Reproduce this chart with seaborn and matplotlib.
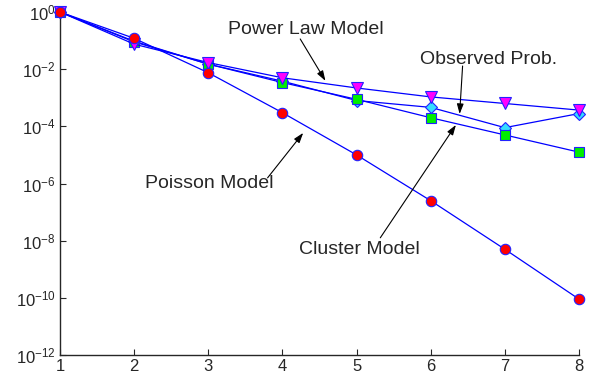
import numpy as np
import pandas as pd
import matplotlib
matplotlib.use("Agg")
import matplotlib.pyplot as plt
import seaborn as sns

sns.set_style("ticks")
plt.rcParams['font.family'] = ['Liberation Sans', 'DejaVu Sans']
plt.rcParams['mathtext.fontset'] = 'custom'
plt.rcParams['mathtext.rm'] = 'Liberation Sans'
plt.rcParams['mathtext.it'] = 'Liberation Sans:italic'
plt.rcParams['mathtext.bf'] = 'Liberation Sans:bold'

x_vals = [1, 2, 3, 4, 5, 6, 7, 8]
observed = [1.0, 0.095, 0.015, 3.8e-3, 8.0e-4, 4.6e-4, 9.0e-5, 2.8e-4]
cluster = [1.0, 0.09, 0.015, 3.4e-3, 8.8e-4, 2.0e-4, 5.0e-5, 1.25e-5]
power_law = [1.0, 0.075, 0.017, 5.0e-3, 2.2e-3, 1.07e-3, 6.3e-4, 3.7e-4]
poisson = [1.0, 0.12, 7.5e-3, 3.0e-4, 1.0e-5, 2.5e-7, 5.0e-9, 9.0e-11]
y_ticks = [1e0, 1e-2, 1e-4, 1e-6, 1e-8, 1e-10, 1e-12]

fig = plt.figure(figsize=(5.97, 3.76), dpi=100)
ax = fig.add_axes([60/597, 1-355/376, 519/597, 343/376])

series = [
    ("Observed", observed, "D", "#33DDFF", 6),
    ("Cluster", cluster, "s", "#00EE00", 6.5),
    ("Power Law", power_law, "v", "#FF00FF", 8.5),
    ("Poisson", poisson, "o", "#FF0000", 7.5),
]
for name, vals, mk, fc, ms in series:
    df = pd.DataFrame({"x": x_vals, "y": vals})
    sns.lineplot(data=df, x="x", y="y", ax=ax, color="#0000FF", lw=0.9,
                 marker=mk, markersize=ms, markerfacecolor=fc,
                 markeredgecolor="#2222FF", markeredgewidth=0.8,
                 clip_on=False, zorder=3)

ax.set_yscale("log")
ax.set_xlim(1, 8)
ax.set_ylim(1e-12, 1e0)
ax.set_xticks(x_vals)
ax.set_xticklabels([str(v) for v in x_vals])
ax.set_yticks(y_ticks)
ax.minorticks_off()
ax.yaxis.set_minor_locator(matplotlib.ticker.NullLocator())
ax.tick_params(direction="in", length=4, width=0.8, labelsize=12, pad=3)
ax.set_xlabel("")
ax.set_ylabel("")
for s in ["top", "right"]:
    ax.spines[s].set_visible(False)
for s in ["left", "bottom"]:
    ax.spines[s].set_linewidth(1.0)

fs = 14
ax.text(4.31, 0.235, "Power Law Model", ha="center", va="center", fontsize=fs)
ax.text(6.78, 0.021, "Observed Prob.", ha="center", va="center", fontsize=fs)
ax.text(3.01, 9.7e-7, "Poisson Model", ha="center", va="center", fontsize=fs)
ax.text(5.04, 4.8e-9, "Cluster Model", ha="center", va="center", fontsize=fs)

arrow = dict(arrowstyle="-|>,head_length=0.6,head_width=0.2", color="black",
             lw=0.8, mutation_scale=10, shrinkA=0, shrinkB=0)
ax.annotate("", xy=(4.58, 3.9e-3), xytext=(4.24, 0.114), arrowprops=arrow)
ax.annotate("", xy=(6.39, 2.7e-4), xytext=(6.43, 0.0129), arrowprops=arrow)
ax.annotate("", xy=(4.28, 5.9e-5), xytext=(3.80, 1.58e-6), arrowprops=arrow)
ax.annotate("", xy=(6.34, 1.12e-4), xytext=(5.32, 1.26e-8), arrowprops=arrow)

fig.savefig("out.png", dpi=100)
